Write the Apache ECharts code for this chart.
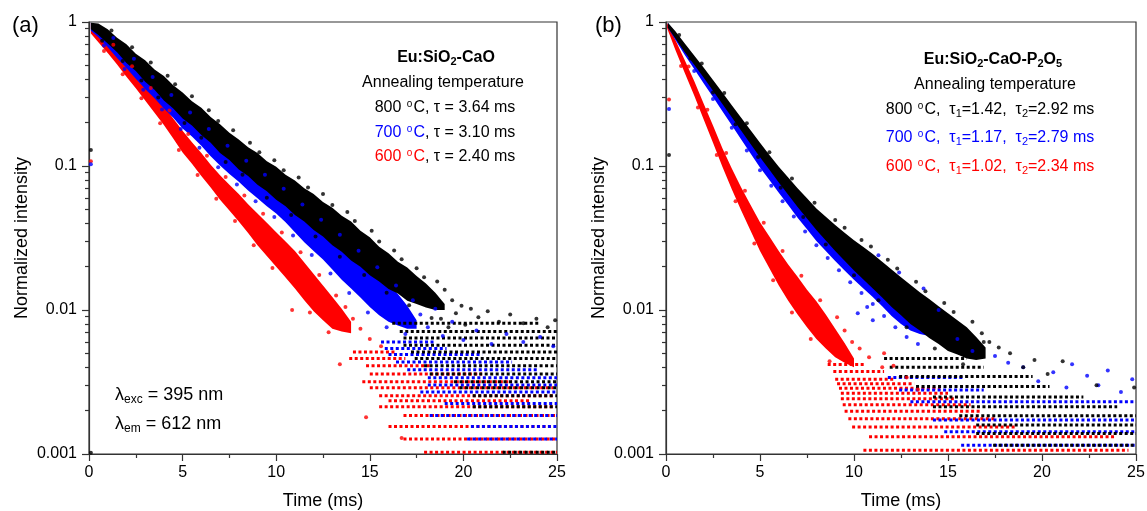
<!DOCTYPE html>
<html><head><meta charset="utf-8">
<script src="https://cdn.jsdelivr.net/npm/echarts@6/dist/echarts.min.js"></script>
<style>html,body{margin:0;padding:0;background:#fff}#c{width:1147px;height:511px}</style>
</head><body><div id="c"></div>
<script>
// ---------- Panel (a): Eu:SiO2-CaO ----------
// dense core of each decay band: time (ms), upper and lower normalized intensity
const bandTimesA800 = [0.1,0.5,1,1.5,2,2.5,3,3.5,4,4.5,5,5.5,6,6.5,7,7.5,8,8.5,9,9.5,10,10.5,11,11.5,12,12.5,13,13.5,14,14.5,15,15.5,16,16.5,17,17.5,18,18.5,19];
const bandHiA800 = [0.99,0.977,0.891,0.776,0.700,0.603,0.543,0.468,0.422,0.363,0.324,0.282,0.254,0.219,0.195,0.170,0.153,0.135,0.123,0.108,0.0989,0.0871,0.0794,0.0700,0.0638,0.0562,0.0513,0.0452,0.0412,0.0355,0.0320,0.0275,0.0248,0.0216,0.0197,0.0172,0.0153,0.0132,0.0110];
const bandLoA800 = [0.891,0.813,0.708,0.617,0.519,0.457,0.385,0.339,0.285,0.251,0.214,0.191,0.164,0.145,0.123,0.110,0.0944,0.0851,0.0741,0.0668,0.0582,0.0525,0.0457,0.0412,0.0359,0.0324,0.0282,0.0254,0.0221,0.0200,0.0174,0.0158,0.0140,0.0130,0.0116,0.0110,0.0104,0.0100,0.0100];

const bandTimesA700 = [0.1,0.5,1,1.5,2,2.5,3,3.5,4,4.5,5,5.5,6,6.5,7,7.5,8,8.5,9,9.5,10,10.5,11,11.5,12,12.5,13,13.5,14,14.5,15,15.5,16,16.5,17,17.5];
const bandHiA700 = [0.99,0.944,0.822,0.708,0.603,0.519,0.442,0.380,0.331,0.285,0.251,0.216,0.191,0.166,0.143,0.127,0.112,0.100,0.0881,0.0794,0.0708,0.0617,0.0550,0.0490,0.0427,0.0372,0.0331,0.0295,0.0257,0.0226,0.0200,0.0172,0.0151,0.0129,0.0107,0.0085];
const bandLoA700 = [0.871,0.785,0.668,0.562,0.479,0.403,0.343,0.295,0.251,0.216,0.182,0.160,0.138,0.117,0.101,0.0881,0.0776,0.0676,0.0596,0.0525,0.0468,0.0407,0.0347,0.0295,0.0257,0.0224,0.0191,0.0162,0.0141,0.0122,0.0105,0.0092,0.0083,0.0078,0.0074,0.0074];

const bandTimesA600 = [0.1,0.5,1,1.5,2,2.5,3,3.5,4,4.5,5,5.5,6,6.5,7,7.5,8,8.5,9,9.5,10,10.5,11,11.5,12,12.5,13,13.5,14];
const bandHiA600 = [0.99,0.871,0.750,0.624,0.525,0.437,0.367,0.309,0.260,0.214,0.176,0.146,0.123,0.102,0.0861,0.0741,0.0638,0.0543,0.0468,0.0403,0.0347,0.0299,0.0257,0.0214,0.0178,0.0148,0.0123,0.0102,0.0083];
const bandLoA600 = [0.832,0.724,0.610,0.507,0.417,0.347,0.285,0.234,0.193,0.155,0.124,0.1035,0.0851,0.0708,0.0582,0.0490,0.0412,0.0343,0.0282,0.0237,0.0200,0.0168,0.0141,0.0117,0.0098,0.0085,0.0074,0.0071,0.0069];

// scattered points outside the dense core [time, intensity]
const dotsA800 = [[0.1,0.129],[0.1,0.00102],[0.7,0.741],[1.2,0.873],[1.8,0.536],[2.3,0.667],[2.8,0.393],[3.3,0.524],[3.7,0.299],[4.2,0.423],[4.6,0.370],[5.1,0.199],[5.5,0.305],[6.0,0.157],[6.4,0.244],[6.9,0.205],[7.3,0.1065],[7.7,0.177],[8.2,0.0871],[8.6,0.145],[9.1,0.1245],[9.5,0.0603],[9.9,0.1096],[10.4,0.0933],[10.8,0.0457],[11.2,0.0832],[11.7,0.0708],[12.1,0.0324],[12.5,0.0638],[13.0,0.0537],[13.4,0.0234],[13.8,0.0479],[14.2,0.0415],[14.7,0.0175],[15.1,0.0355],[15.5,0.0299],[15.9,0.0132],[16.3,0.0259],[16.7,0.0225],[17.1,0.0108],[17.5,0.0195],[17.9,0.0169],[18.3,0.0088],[18.6,0.0158],[18.8,0.0087],[19.0,0.0138],[19.2,0.0076],[19.4,0.0117],[19.6,0.0095],[19.9,0.0107],[20.1,0.0079],[20.4,0.0102],[20.8,0.0089],[21.3,0.0098],[21.9,0.0083],[22.5,0.0093],[23.2,0.0081],[23.9,0.0087],[24.5,0.0076],[24.9,0.0085]];
const dotsA700 = [[0.1,0.103],[0.8,0.686],[1.3,0.773],[1.9,0.472],[2.4,0.555],[2.9,0.338],[3.4,0.415],[3.9,0.247],[4.4,0.311],[4.9,0.181],[5.4,0.2355],[5.9,0.134],[6.4,0.181],[6.9,0.098],[7.4,0.138],[7.9,0.0743],[8.4,0.1086],[8.9,0.0570],[9.4,0.0871],[9.9,0.0442],[10.4,0.0695],[10.9,0.0329],[11.4,0.0540],[11.9,0.0241],[12.4,0.0424],[12.9,0.0179],[13.4,0.0333],[13.9,0.0131],[14.4,0.0258],[14.9,0.0096],[15.4,0.0198],[15.9,0.0076],[16.4,0.0148],[16.9,0.0068],[17.3,0.0117],[17.7,0.0093],[18.1,0.0076],[18.5,0.0102],[18.9,0.0066],[19.4,0.0083],[20.0,0.0062],[20.7,0.0072],[21.5,0.0058],[22.3,0.0068],[23.2,0.0060],[24.1,0.0065],[24.8,0.0056]];
const dotsA600 = [[0.1,0.108],[0.8,0.628],[1.3,0.695],[1.8,0.434],[2.3,0.492],[2.8,0.296],[3.3,0.348],[3.8,0.198],[4.3,0.243],[4.8,0.129],[5.3,0.1667],[5.8,0.0865],[6.3,0.118],[6.8,0.0592],[7.3,0.0838],[7.8,0.0415],[8.3,0.0624],[8.8,0.0282],[9.3,0.0466],[9.8,0.0196],[10.3,0.0345],[10.85,0.0100],[11.3,0.0252],[11.8,0.0096],[12.3,0.0175],[12.8,0.0070],[13.2,0.0126],[13.4,0.0042],[13.7,0.0105],[14.1,0.0087],[14.5,0.0074],[14.8,0.0018],[15.0,0.0063],[15.6,0.0056],[16.7,0.00129]];

// quantized low-count rows: [intensity level, start time, end time]
const rowsA800 = [[0.00103,22.1,25],[0.00213,20.5,25],[0.00254,20.5,25],[0.00288,19.8,25],[0.00318,19.5,25],[0.0036,18.2,25],[0.0041,17.9,25],[0.0046,17.4,25],[0.0051,17.2,25],[0.0057,16.8,25],[0.0064,16.8,25],[0.0071,16.6,25],[0.0081,16.2,24.0]];
const rowsA700 = [[0.00127,20.2,25],[0.00155,20.4,25],[0.00185,18.2,25],[0.00224,19.0,25],[0.00270,17.7,25],[0.00302,18.1,25],[0.00338,18.1,25],[0.00385,17.0,24.0],[0.00435,16.4,22.6],[0.0049,16.0,21.0],[0.0054,15.8,19.1],[0.0060,15.6,18.5]];
const rowsA600 = [[0.00103,17.9,25],[0.00127,16.8,25],[0.00155,16.0,24.8],[0.00185,16.8,25],[0.00213,15.5,24.8],[0.00234,16.0,23.6],[0.00254,15.5,24.8],[0.00288,15.0,24.8],[0.00318,14.6,22.6],[0.0036,15.0,21.0],[0.0041,14.8,18.2],[0.0046,13.9,16.9],[0.0051,14.1,16.4]];

// ---------- Panel (b): Eu:SiO2-CaO-P2O5 ----------
const bandTimesB800 = [0.1,0.5,1,1.5,2,2.5,3,3.5,4,4.5,5,5.5,6,6.5,7,7.5,8,8.5,9,9.5,10,10.5,11,11.5,12,12.5,13,13.5,14,14.5,15,15.5,16,16.5,17];
const bandHiB800 = [0.99,0.861,0.708,0.585,0.484,0.395,0.324,0.264,0.216,0.177,0.145,0.119,0.0989,0.0832,0.0700,0.0596,0.0507,0.0444,0.0389,0.0344,0.0305,0.0274,0.0245,0.0216,0.0191,0.0169,0.0150,0.0133,0.0119,0.0106,0.0095,0.0085,0.0076,0.0065,0.0055];
const bandLoB800 = [0.912,0.767,0.617,0.505,0.412,0.333,0.269,0.218,0.176,0.142,0.115,0.0940,0.0767,0.0631,0.0519,0.0432,0.0359,0.0304,0.0257,0.0220,0.0188,0.0163,0.0141,0.0122,0.0105,0.0092,0.0080,0.0072,0.0064,0.0058,0.0052,0.0049,0.0046,0.0045,0.0046];

const bandTimesB700 = [0.1,0.5,1,1.5,2,2.5,3,3.5,4,4.5,5,5.5,6,6.5,7,7.5,8,8.5,9,9.5,10,10.5,11,11.5,12,12.5,13,13.5,14];
const bandHiB700 = [0.99,0.841,0.676,0.546,0.442,0.356,0.288,0.233,0.188,0.152,0.123,0.102,0.0841,0.0695,0.0575,0.0490,0.0417,0.0363,0.0316,0.0279,0.0245,0.0219,0.0195,0.0172,0.0151,0.0133,0.0115,0.0098,0.0079];
const bandLoB700 = [0.912,0.750,0.589,0.471,0.376,0.301,0.240,0.192,0.153,0.122,0.0977,0.0800,0.0653,0.0535,0.0437,0.0363,0.0302,0.0257,0.0219,0.0188,0.0162,0.0141,0.0123,0.0106,0.0091,0.0080,0.0072,0.0068,0.0066];

const bandTimesB600 = [0.05,0.5,1,1.5,2,2.5,3,3.5,4,4.5,5,5.5,6,6.5,7,7.5,8,8.5,9,9.5,10];
const bandHiB600 = [0.99,0.750,0.543,0.389,0.272,0.191,0.133,0.0959,0.0708,0.0537,0.0407,0.0324,0.0257,0.0207,0.0170,0.0138,0.0115,0.0093,0.0074,0.0059,0.0046];
const bandLoB600 = [0.912,0.638,0.442,0.309,0.211,0.145,0.0989,0.0689,0.0490,0.0355,0.0257,0.0195,0.0148,0.0116,0.0093,0.0076,0.0063,0.0054,0.0047,0.0043,0.0040];

const dotsB800 = [[0.16,0.119],[0.7,0.811],[1.3,0.557],[1.9,0.515],[2.5,0.324],[3.1,0.321],[3.7,0.195],[4.3,0.198],[4.9,0.1156],[5.5,0.1245],[6.1,0.0706],[6.7,0.0818],[7.3,0.0442],[7.9,0.0556],[8.5,0.0285],[9.0,0.0422],[9.5,0.0372],[10.0,0.0174],[10.4,0.0306],[10.9,0.0276],[11.3,0.0117],[11.8,0.0223],[12.3,0.0194],[12.8,0.0076],[13.3,0.0157],[13.8,0.0135],[14.3,0.0054],[14.8,0.0112],[15.3,0.0097],[15.8,0.0042],[16.3,0.0083],[16.8,0.0069],[16.9,0.0060],[17.2,0.0060],[17.7,0.0055],[18.3,0.0050],[19.0,0.0040],[19.6,0.0045],[20.3,0.0036],[21.1,0.0044],[22.9,0.0030],[24.9,0.0029]];
const dotsB700 = [[0.16,0.249],[1.5,0.457],[2.5,0.292],[3.5,0.184],[4.3,0.128],[5.0,0.0933],[5.6,0.0729],[6.2,0.0570],[6.8,0.0446],[7.4,0.0351],[8.0,0.0282],[8.6,0.0230],[9.2,0.0189],[9.8,0.0156],[10.2,0.0095],[10.4,0.0131],[10.7,0.0105],[11.0,0.0110],[11.0,0.0085],[11.3,0.0240],[11.6,0.0091],[12.2,0.0076],[12.4,0.0182],[12.8,0.0065],[13.4,0.0058],[13.7,0.0141],[14.5,0.0100],[15.5,0.0063],[16.3,0.0052],[17.5,0.0048],[18.2,0.0043],[19.0,0.0040],[19.8,0.0032],[20.6,0.0037],[21.3,0.0029],[21.6,0.0042],[22.4,0.0035],[23.0,0.0030],[23.5,0.0038],[24.2,0.0027],[24.8,0.0033]];
const dotsB600 = [[0.16,0.29],[0.8,0.495],[1.2,0.490],[1.7,0.255],[2.2,0.246],[2.7,0.119],[3.2,0.123],[3.7,0.0568],[4.2,0.0673],[4.7,0.0290],[5.2,0.0404],[5.7,0.0161],[6.2,0.0257],[6.7,0.0096],[7.2,0.0173],[7.7,0.0063],[8.2,0.0117],[8.7,0.0044],[9.1,0.0089],[9.5,0.0072],[9.9,0.0060],[10.3,0.0054],[10.8,0.0047],[11.5,0.0040],[11.6,0.0050],[12.1,0.0041],[12.8,0.0034],[13.4,0.0028]];

const rowsB800 = [[0.00115,17.4,25],[0.00139,16.5,25],[0.00159,16.5,25],[0.00184,15.6,25],[0.00213,14.2,24.0],[0.00249,14.2,22.2],[0.00294,13.3,20.4],[0.00345,12.4,19.5],[0.0040,11.9,16.9],[0.0046,11.6,16.0]];
const rowsB700 = [[0.00115,15.7,25],[0.00143,14.8,25],[0.00172,14.2,25],[0.00231,13.0,25],[0.00278,12.4,16.9],[0.0034,11.8,15.8]];
const rowsB600 = [[0.00106,10.5,24.6],[0.00132,10.8,23.9],[0.00154,9.9,18.6],[0.00176,9.7,17.6],[0.00198,9.5,16.8],[0.00220,9.4,16.2],[0.00242,9.3,15.4],[0.00264,9.3,15.0],[0.00286,9.2,14.6],[0.00308,9.1,13.2],[0.00330,9.0,12.1],[0.00374,8.9,11.6],[0.00418,8.6,10.6]];

// axis ticks
const xTicks = [0, 5, 10, 15, 20, 25];
const yTicks = [0.001, 0.01, 0.1, 1];

// ---------- rendering ----------
const FONT = '"Liberation Sans", Arial, Helvetica, sans-serif';
const BLACK = '#000000', BLUE = '#0000ff', RED = '#ff0000';
const AXC = '#333333';

function bandSeries(idx, times, hi, lo, color) {
  const data = times.map((t, i) => [t, hi[i], lo[i]]);
  return {
    type: 'custom', xAxisIndex: idx, yAxisIndex: idx, silent: true, clip: true,
    data: data, encode: {x: 0, y: 1},
    renderItem: function (params, api) {
      if (params.dataIndex !== 0) return null;
      const top = data.map(d => api.coord([d[0], d[1]]));
      const bot = data.map(d => api.coord([d[0], d[2]])).reverse();
      return {type: 'polygon', shape: {points: top.concat(bot)}, style: {fill: color}};
    }
  };
}
function rowSeries(idx, rows, color) {
  return {
    type: 'custom', xAxisIndex: idx, yAxisIndex: idx, silent: true, clip: true,
    data: rows.map(r => [r[1], r[0], r[2]]), encode: {x: 0, y: 1},
    renderItem: function (params, api) {
      const p0 = api.coord([api.value(0), api.value(1)]);
      const p1 = api.coord([api.value(2), api.value(1)]);
      return {type: 'line', shape: {x1: p0[0], y1: p0[1], x2: p1[0], y2: p1[1]},
              style: {stroke: color, lineWidth: 3, lineDash: [3, 2.5]}};
    }
  };
}
function dotSeries(idx, pts, color) {
  return {type: 'scatter', xAxisIndex: idx, yAxisIndex: idx, data: pts, symbolSize: 4,
          itemStyle: {color: color}, silent: true};
}
function xAxisFor(g) {
  return {type: 'value', gridIndex: g, min: xTicks[0], max: xTicks[xTicks.length - 1], interval: 5,
    name: 'Time (ms)', nameLocation: 'middle', nameGap: 38,
    nameTextStyle: {fontSize: 18, color: '#000', fontFamily: FONT},
    axisLine: {show: true, onZero: false, lineStyle: {color: AXC, width: 1.2}},
    axisTick: {show: true, inside: false, length: 7, lineStyle: {color: AXC, width: 1.2}},
    minorTick: {show: true, splitNumber: 2, length: 4, lineStyle: {color: AXC, width: 1.2}},
    splitLine: {show: false}, minorSplitLine: {show: false},
    axisLabel: {fontSize: 16, color: '#000', margin: 11, fontFamily: FONT}};
}
function yAxisFor(g) {
  return {type: 'log', logBase: 10, gridIndex: g, min: yTicks[0], max: yTicks[yTicks.length - 1],
    name: 'Normalized intensity', nameLocation: 'middle', nameGap: 58,
    nameTextStyle: {fontSize: 18, color: '#000', fontFamily: FONT},
    axisLine: {show: true, onZero: false, lineStyle: {color: AXC, width: 1.2}},
    axisTick: {show: true, inside: false, length: 7, lineStyle: {color: AXC, width: 1.2}},
    minorTick: {show: true, splitNumber: 9, length: 4, lineStyle: {color: AXC, width: 1.2}},
    splitLine: {show: false}, minorSplitLine: {show: false},
    axisLabel: {fontSize: 16, color: '#000', margin: 12, fontFamily: FONT}};
}
function tok(size, color, extra) {
  return Object.assign({fontSize: size, fontFamily: FONT, fill: color, color: color}, extra || {});
}
const rich = {
  tb: tok(16, BLACK, {fontWeight: 'bold'}), tbs: tok(11, BLACK, {fontWeight: 'bold', padding: [7, 0, 0, 0]}),
  k: tok(16, BLACK), ko: tok(10, BLACK, {padding: [0, 1, 8, 1]}), ks: tok(11, BLACK, {padding: [7, 0, 0, 0]}),
  b: tok(16, BLUE), bo: tok(10, BLUE, {padding: [0, 1, 8, 1]}), bs: tok(11, BLUE, {padding: [7, 0, 0, 0]}),
  r: tok(16, RED), ro: tok(10, RED, {padding: [0, 1, 8, 1]}), rs: tok(11, RED, {padding: [7, 0, 0, 0]}),
  L: tok(18, BLACK), Ls: tok(12, BLACK, {padding: [9, 0, 0, 0]})
};
function txt(x, y, text, align) {
  return {type: 'text', x: x, y: y, silent: true,
    style: {text: text, rich: rich, align: align || 'center', verticalAlign: 'middle', fontFamily: FONT, fontSize: 16, fill: '#000'}};
}

const chart = echarts.init(document.getElementById('c'), null, {renderer: 'canvas'});
chart.setOption({
  animation: false,
  backgroundColor: '#ffffff',
  grid: [
    {left: 89, top: 22, width: 468, height: 432, show: true, borderColor: AXC, borderWidth: 1.2, containLabel: false, outerBoundsMode: 'none'},
    {left: 666, top: 22, width: 470, height: 432, show: true, borderColor: AXC, borderWidth: 1.2, containLabel: false, outerBoundsMode: 'none'}
  ],
  xAxis: [xAxisFor(0), xAxisFor(1)],
  yAxis: [yAxisFor(0), yAxisFor(1)],
  series: [
    bandSeries(0, bandTimesA600, bandHiA600, bandLoA600, RED), rowSeries(0, rowsA600, RED), dotSeries(0, dotsA600, RED),
    bandSeries(0, bandTimesA700, bandHiA700, bandLoA700, BLUE), rowSeries(0, rowsA700, BLUE), dotSeries(0, dotsA700, BLUE),
    bandSeries(0, bandTimesA800, bandHiA800, bandLoA800, BLACK), rowSeries(0, rowsA800, BLACK), dotSeries(0, dotsA800, BLACK),
    bandSeries(1, bandTimesB600, bandHiB600, bandLoB600, RED), rowSeries(1, rowsB600, RED), dotSeries(1, dotsB600, RED),
    bandSeries(1, bandTimesB700, bandHiB700, bandLoB700, BLUE), rowSeries(1, rowsB700, BLUE), dotSeries(1, dotsB700, BLUE),
    bandSeries(1, bandTimesB800, bandHiB800, bandLoB800, BLACK), rowSeries(1, rowsB800, BLACK), dotSeries(1, dotsB800, BLACK)
  ],
  graphic: [
    {type: 'text', x: 12, y: 15, silent: true, style: {text: '(a)', fontSize: 22, fontFamily: FONT, fill: '#000'}},
    {type: 'text', x: 595, y: 15, silent: true, style: {text: '(b)', fontSize: 22, fontFamily: FONT, fill: '#000'}},
    txt(446, 58, '{tb|Eu:SiO}{tbs|2}{tb|-CaO}'),
    txt(443, 83, '{k|Annealing temperature}'),
    txt(445, 108, '{k|800 }{ko|o}{k|C, τ = 3.64 ms}'),
    txt(445, 133, '{b|700 }{bo|o}{b|C}{k|, τ = 3.10 ms}'),
    txt(445, 157, '{r|600 }{ro|o}{r|C}{k|, τ = 2.40 ms}'),
    txt(115, 395, '{L|λ}{Ls|exc}{L| = 395 nm}', 'left'),
    txt(115, 424, '{L|λ}{Ls|em}{L| = 612 nm}', 'left'),
    txt(993, 60, '{tb|Eu:SiO}{tbs|2}{tb|-CaO-P}{tbs|2}{tb|O}{tbs|5}'),
    txt(995, 85, '{k|Annealing temperature}'),
    txt(990, 110, '{k|800 }{ko|o}{k|C,  τ}{ks|1}{k|=1.42,  τ}{ks|2}{k|=2.92 ms}'),
    txt(990, 138, '{b|700 }{bo|o}{b|C,  τ}{bs|1}{b|=1.17,  τ}{bs|2}{b|=2.79 ms}'),
    txt(990, 167, '{r|600 }{ro|o}{r|C,  τ}{rs|1}{r|=1.02,  τ}{rs|2}{r|=2.34 ms}')
  ]
});
</script>
</body></html>
